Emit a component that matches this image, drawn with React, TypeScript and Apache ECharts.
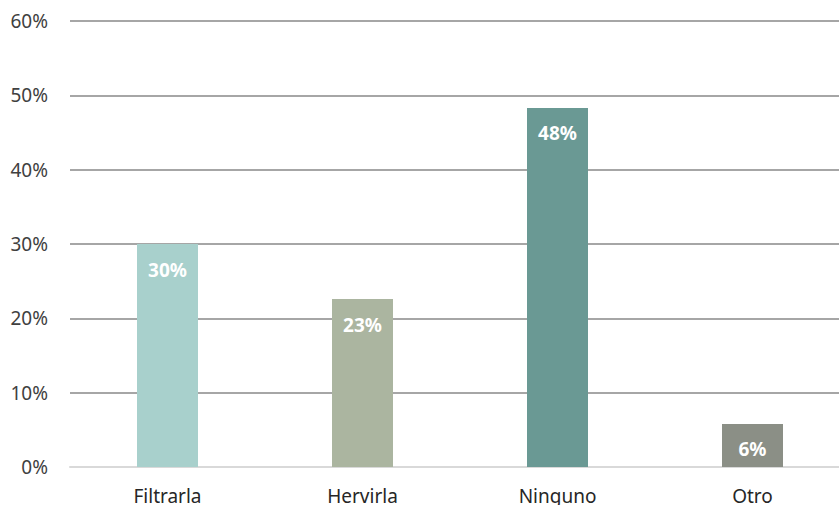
import React, { useEffect, useRef } from "react";
import * as echarts from "echarts";

const categories = ["Filtrarla", "Hervirla", "Ninguno", "Otro"];
const values = [30, 22.6, 48.3, 5.8];
const barColors = ["#a8d0cc", "#abb5a0", "#6a9994", "#8b8f86"];
const yTicks = { min: 0, max: 60, interval: 10 };

export default function App() {
  const ref = useRef<HTMLDivElement>(null);
  useEffect(() => {
    document.body.style.margin = "0";
    const chart = echarts.init(ref.current!, null, { renderer: "svg" });
    chart.setOption({
      animation: false,
      backgroundColor: "#ffffff",
      textStyle: { fontFamily: "Noto Sans" },
      grid: { left: 70, right: 0, top: 21, bottom: 37.5, containLabel: false },
      xAxis: {
        type: "category",
        data: categories,
        axisLine: { show: true, lineStyle: { color: "#d9d9d9", width: 2 } },
        axisTick: { show: false },
        axisLabel: { color: "#262626", fontSize: 19, margin: 19, fontFamily: "Noto Sans" },
      },
      yAxis: {
        type: "value",
        min: yTicks.min,
        max: yTicks.max,
        interval: yTicks.interval,
        axisLine: { show: false },
        axisTick: { show: false },
        axisLabel: {
          color: "#404040",
          fontSize: 19,
          margin: 22,
          fontFamily: "Noto Sans",
          formatter: (v: number) => `${v}%`,
        },
        splitLine: { lineStyle: { color: "#a6a6a6", width: 2 } },
      },
      series: [
        {
          type: "bar",
          barWidth: 61,
          data: values.map((v, i) => ({ value: v, itemStyle: { color: barColors[i] } })),
          label: {
            show: true,
            position: "insideTop",
            distance: 16,
            color: "#ffffff",
            fontWeight: "bold",
            fontSize: 19,
            fontFamily: "Noto Sans",
            formatter: (p: any) => `${Math.round(p.value)}%`,
          },
        },
      ],
    });
    return () => chart.dispose();
  }, []);
  return (
    <div style={{ width: 839, height: 505, overflow: "hidden" }}>
      <div ref={ref} style={{ width: 850, height: 505 }} />
    </div>
  );
}
